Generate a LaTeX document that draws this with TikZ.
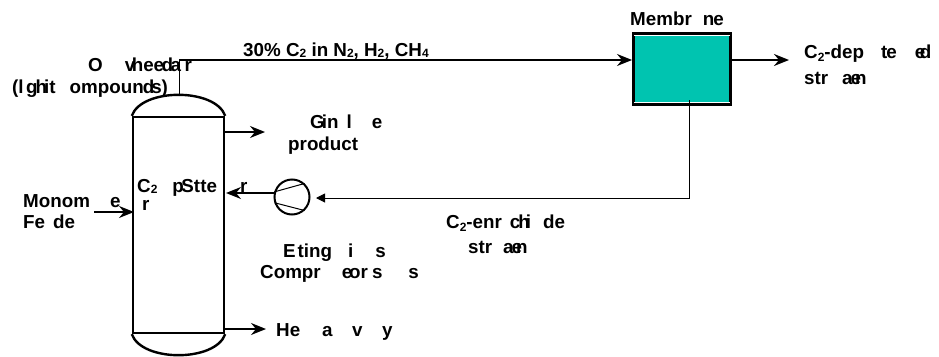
\documentclass[tikz,border=0pt]{standalone}
\usepackage{fontspec}
\setmainfont{Liberation Sans}
\usetikzlibrary{arrows.meta,positioning}
\definecolor{membfill}{RGB}{0,196,176}
\newcommand{\lowidx}[1]{\raisebox{-3pt}{\fontsize{12}{12}\selectfont #1}}
\newcommand{\inidx}[1]{\raisebox{-1pt}{\fontsize{12}{12}\selectfont #1}}

\begin{document}
\begin{tikzpicture}[x=1pt,y=-1pt]
\tikzstyle{vessel} = [
	shape=rectangle,
	draw=black,
	line width=2.4pt,
	minimum width=91pt,
	minimum height=216pt,
	inner sep=0pt
];
\tikzstyle{membrane} = [
	shape=rectangle,
	draw=black, %heavy border
	fill=membfill,
	line width=3.5pt,
	minimum width=97pt,
	minimum height=71pt,
	inner sep=0pt
];
\tikzstyle{compressor} = [
	shape=circle,
	draw=black,
	line width=2pt,
	minimum size=35pt,
	inner sep=0pt
];
\tikzstyle{label} = [
	anchor=base west,
	inner sep=0pt,
	font=\fontsize{18.8}{20}\selectfont\bfseries
];
\tikzstyle{flow} = [
	-{Stealth[length=15pt,width=12pt,inset=5pt]},
	line width=1.6pt,
	color=black
];

\useasboundingbox (0,0) rectangle (939,356);

%equipment
\node[vessel](Sp) at (178.5,225) {};
\node[membrane](Mb) at (682,69) {};
\node[compressor](Co) at (292,197) {};

\draw[line width=2.4pt]
	(Sp.north west) .. controls +(10,-28) and +(-10,-28) .. (Sp.north east)
	(Sp.south west) .. controls +(10,28) and +(-10,28) .. (Sp.south east)
;
\draw[line width=1pt]
	(Co.164) -- (Co.47)
	(Co.198) -- (Co.-47)
;
\draw[white,line width=0.6pt]
	(634,35) -- (730,35)
	(634,102) -- (730,102)
;

%stream ends
\coordinate (OvOut) at (179,96);
\coordinate (OvIn) at (632,60);
\coordinate (DepOut) at (732,60);
\coordinate (DepEnd) at (789,60);
\coordinate (EnrOut) at (689,100);
\coordinate (EnrIn) at (316,198);
\coordinate (CoOut) at (274,193);
\coordinate (SpRet) at (226,193);
\coordinate (FeedOut) at (94,212);
\coordinate (FeedIn) at (134,212);
\coordinate (MidOut) at (225,132);
\coordinate (MidEnd) at (265,132);
\coordinate (HvOut) at (225,329);
\coordinate (HvEnd) at (266,329);

%streams
\draw[line width=1pt] (OvOut) -- (179,60);
\draw[flow] (179,60) -- (OvIn);
\draw[flow,line width=2.2pt] (DepOut) -- (DepEnd);
\draw[-{Triangle[length=9pt,width=9pt]}, line width=1pt]
	(EnrOut) |- (EnrIn);
\draw[flow] (CoOut) -- (SpRet);
\draw[flow] (FeedOut) -- (FeedIn);
\draw[flow] (MidOut) -- (MidEnd);
\draw[flow] (HvOut) -- (HvEnd);

%labels
\node[label](LbMb) at (630,25) {Membr\kern11pt n\kern-1pt e};
\node[label](LbDa) at (804,58) {C\lowidx{2}-dep\kern17pt t\kern-1pt e\kern18pt e\kern-5.5pt d};
\node[label](LbDb) at (804,84) {str\kern14pt a\kern-2pt e\kern-6pt n};
\node[label](LbFd) at (243,56) {30\% C\inidx{2} in N\inidx{2}, H\inidx{2}, CH\inidx{4}};
\node[label](LbOa) at (88,71) {O\kern22pt v\kern-3.5pt he\kern0pt e\kern-2.5pt d\kern-2.5pt a\kern3.5pt r};
\node[label](LbOb) at (12,93) {(l\kern2.5pt g\kern-2pt h\kern-3pt it\kern14pt ompoun\kern-1pt d\kern-3pt s)};
\node[label](LbMa) at (310,128) {G\kern-3pt in\kern8pt l\kern20pt e};
\node[label](LbMc) at (288,150) {product};
\node[label](LbSa) at (137,192) {C\inidx{2}\kern15pt p\kern-2.5pt Stte};
\node[label](LbSb) at (240,192) {r};
\node[label](LbFa) at (23,207) {Monom\kern20pt e};
\node[label](LbFb) at (142,210) {r};
\node[label](LbFc) at (23,228) {Fe\kern8pt de};
\node[label](LbCa) at (283,257) {E\kern2pt ting\kern16pt i\kern22pt s};
\node[label](LbCb) at (260,278) {Compr\kern21pt e\kern-3pt or\kern4pt s\kern26pt s};
\node[label](LbHv) at (276,336) {He\kern22pt a\kern19.5pt v\kern19.5pt y};
\node[label](LbEa) at (446,228) {C\lowidx{2}-enr\kern8pt c\kern-2pt h\kern-4pt i\kern12pt de};
\node[label](LbEb) at (468,253) {str\kern11pt a\kern-2pt e\kern-6pt n};
\end{tikzpicture}
\end{document}
